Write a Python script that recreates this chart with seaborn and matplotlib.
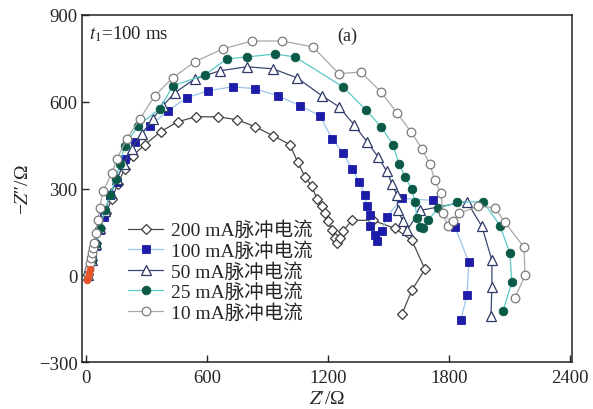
import matplotlib
matplotlib.use("Agg")
import matplotlib.pyplot as plt
import seaborn as sns
import pandas as pd

sns.set_style("ticks")
plt.rcParams['font.family'] = ['Liberation Serif', 'Noto Sans CJK SC']
plt.rcParams['mathtext.fontset'] = 'stix'
plt.rcParams['axes.unicode_minus'] = True

# ---- data (Z' and -Z'' in Ohm) ----
labels = ["200 mA脉冲电流", "100 mA脉冲电流", "50 mA脉冲电流", "25 mA脉冲电流", "10 mA脉冲电流"]

z200_re = [10, 30, 50, 69, 99, 129, 159, 193, 233, 293, 372, 456, 545, 654, 749, 838, 927, 1011,
           1051, 1086, 1121, 1145, 1170, 1185, 1200, 1220, 1235, 1244, 1259, 1274, 1319, 1423,
           1532, 1616, 1681, 1616, 1567]
z200_im = [3, 52, 110, 162, 214, 265, 317, 369, 414, 452, 497, 531, 548, 548, 538, 514, 483, 452,
           390, 341, 307, 265, 238, 214, 186, 155, 128, 110, 128, 152, 190, 190,
           162, 121, 21, -52, -134]

z100_re = [10, 30, 50, 69, 89, 119, 154, 193, 243, 317, 407, 501, 605, 729, 838, 952, 1061, 1160,
           1220, 1274, 1319, 1354, 1383, 1393, 1408, 1408, 1433, 1443, 1468, 1492, 1567, 1720,
           1830, 1899, 1889, 1859]
z100_im = [0, 52, 100, 155, 203, 276, 324, 403, 462, 517, 569, 614, 638, 652, 645, 621, 586, 552,
           472, 424, 369, 324, 279, 238, 207, 172, 138, 117, 152, 203, 266, 259,
           166, 45, -69, -155]

z50_re = [10, 30, 50, 69, 94, 124, 154, 188, 228, 278, 332, 382, 441, 540, 664, 798, 927, 1046,
          1170, 1254, 1329, 1393, 1448, 1492, 1517, 1542, 1547, 1572, 1592, 1656, 1889, 1963,
          2013, 2013, 2008]
z50_im = [0, 52, 107, 162, 221, 283, 334, 386, 438, 490, 541, 586, 631, 679, 707, 721, 714, 683,
          621, 583, 521, 462, 410, 359, 317, 276, 224, 186, 155, 224, 255, 169,
          52, -41, -141]

z25_re = [10, 30, 50, 69, 94, 119, 149, 169, 193, 258, 367, 431, 590, 699, 798, 937, 1036, 1274,
          1388, 1463, 1522, 1552, 1582, 1616, 1631, 1641, 1656, 1671, 1696, 1745, 1839, 1968,
          2053, 2102, 2112, 2068]
z25_im = [0, 52, 107, 162, 224, 276, 334, 386, 448, 517, 576, 655, 693, 748, 755, 765, 755, 652,
          572, 514, 452, 386, 341, 297, 255, 197, 166, 162, 190, 231, 252, 255,
          172, 76, -24, -124]

z10_re = [10, 15, 20, 25, 30, 35, 40, 50, 59, 69, 84, 129, 154, 203, 268, 342, 431, 540, 679, 823,
          972, 1125, 1254, 1363, 1463, 1542, 1611, 1666, 1706, 1730, 1760, 1770, 1795, 1820,
          1849, 1944, 2028, 2077, 2172, 2177, 2127]
z10_im = [0, 20, 41, 58, 76, 93, 110, 145, 190, 231, 290, 352, 403, 472, 541, 621, 683, 738, 783, 810,
          810, 790, 697, 703, 634, 562, 497, 438, 383, 328, 283, 214, 169, 186,
          214, 238, 234, 183, 97, 0, -79]

hf_re = [5, 12, 18, 22]
hf_im = [-15, -5, 8, 20]

series = [
    (z200_re, z200_im, dict(marker='D', ms=5.0, mfc='white', mec='#3a3a3a', mew=0.9, color='#4a4a4a', lw=0.9)),
    (z100_re, z100_im, dict(marker='s', ms=5.3, mfc='#1c1ca8', mec='#1c1ca8', mew=0.6, color='#9cc4ea', lw=0.9)),
    (z50_re, z50_im, dict(marker='^', ms=6.8, mfc='white', mec='#2c3868', mew=0.9, color='#3b4670', lw=0.9)),
    (z25_re, z25_im, dict(marker='o', ms=6.2, mfc='#0b5a48', mec='#0b5a48', mew=0.6, color='#5cc8c8', lw=0.9)),
    (z10_re, z10_im, dict(marker='o', ms=6.2, mfc='white', mec='#7a7a7a', mew=0.9, color='#a8a8a8', lw=0.9)),
]

fig = plt.figure(figsize=(5.93, 4.10), dpi=100)
ax = fig.add_axes([0.138, 0.1146, 0.8266, 0.8464])

for (zr, zi, st), lab in zip(series, labels):
    df = pd.DataFrame({"Zre": zr, "Zim": zi})
    sns.lineplot(data=df, x="Zre", y="Zim", sort=False, estimator=None, ax=ax,
                 color=st['color'], lw=st['lw'], marker=st['marker'], markersize=st['ms'],
                 markerfacecolor=st['mfc'], markeredgecolor=st['mec'], markeredgewidth=st['mew'],
                 label=lab)

hf = pd.DataFrame({"Zre": hf_re, "Zim": hf_im})
sns.scatterplot(data=hf, x="Zre", y="Zim", ax=ax, color='#e8542a', s=25, edgecolor='#e8542a',
                marker='o', legend=False, zorder=5)

ax.set_xlim(-20, 2410)
ax.set_ylim(-300, 900)
ax.set_xticks([0, 600, 1200, 1800, 2400])
ax.set_yticks([-300, 0, 300, 600, 900])
ax.tick_params(direction='in', length=5, width=1.0, labelsize=13.5)
ax.tick_params(axis='x', pad=5)
ax.tick_params(axis='y', pad=3)
for s in ax.spines.values():
    s.set_linewidth(1.1)
    s.set_color('#222222')

ax.set_xlabel("$Z$′/Ω", fontsize=14, labelpad=3)
ax.set_ylabel("−$Z$″/Ω", fontsize=14, labelpad=5)

ax.text(0.014, 0.975, r"$t_1$=100 ms", transform=ax.transAxes, fontsize=13.5, va='top', ha='left')
ax.text(0.541, 0.94, "(a)", transform=ax.transAxes, fontsize=13, va='center', ha='center')

leg = ax.legend(loc='upper left', bbox_to_anchor=(0.075, 0.435), frameon=False, fontsize=14,
                handlelength=1.8, handletextpad=0.4, labelspacing=0.1, borderpad=0)

fig.savefig("out.png", dpi=100)
